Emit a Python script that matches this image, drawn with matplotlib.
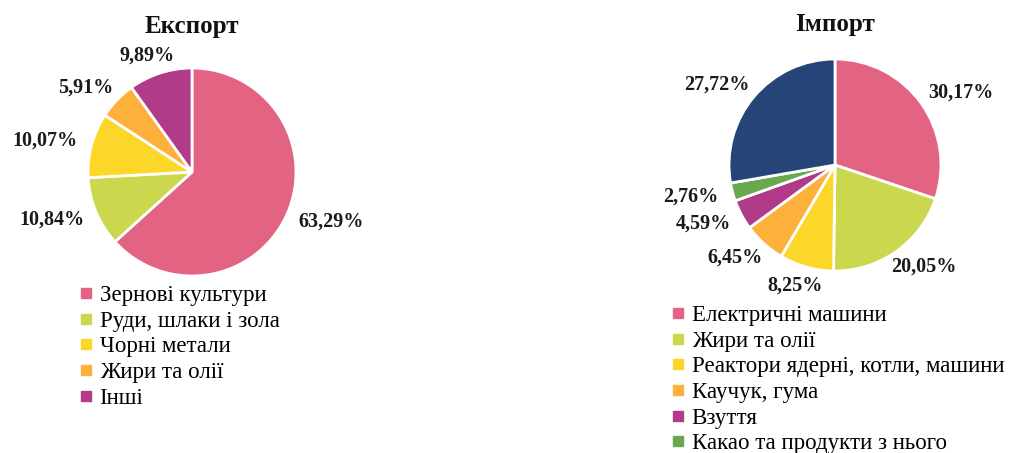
import matplotlib
matplotlib.use("Agg")
from matplotlib import pyplot as plt
from matplotlib.lines import Line2D
import numpy as np

plt.rcParams['font.family'] = ['Liberation Serif', 'DejaVu Serif']

export_names = ["Зернові культури", "Руди, шлаки і зола", "Чорні метали", "Жири та олії", "Інші"]
export_vals = [63.29, 10.84, 10.07, 5.91, 9.89]
export_colors = ["#E36482", "#CBD84E", "#FDD62A", "#FDB03A", "#B13A89"]

import_names = ["Електричні машини", "Жири та олії", "Реактори ядерні, котли, машини",
                "Каучук, гума", "Взуття", "Какао та продукти з нього", "Інші"]
import_vals = [30.17, 20.05, 8.25, 6.45, 4.59, 2.76, 27.72]
import_colors = ["#E36482", "#CBD84E", "#FDD62A", "#FDB03A", "#B13A89", "#6AA84F", "#264478"]
import_legend_count = 6

W, H = 1013, 453
fig = plt.figure(figsize=(W / 100, H / 100), dpi=100)


def fmt(v):
    return ("%.2f%%" % v).replace(".", ",")


def draw_pie(cx, cy, r, vals, colors, title, ty):
    ax = fig.add_axes([(cx - r) / W, 1 - (cy + r) / H, 2 * r / W, 2 * r / H])
    wedges, _ = ax.pie(vals, colors=colors, startangle=90, counterclock=False,
                       wedgeprops=dict(edgecolor="white", linewidth=2))
    ax.set_xlim(-1, 1)
    ax.set_ylim(-1, 1)
    renderer = fig.canvas.get_renderer()
    # labels placed just outside the slice, pushed sideways by their own width
    for w, v in zip(wedges, vals):
        ang = np.deg2rad((w.theta1 + w.theta2) / 2)
        c, s = np.cos(ang), np.sin(ang)
        t = ax.text(0, 0, fmt(v), ha="center", va="center", fontsize=14.5,
                    fontweight="bold", color="#1a1a1a", clip_on=False)
        bb = t.get_window_extent(renderer)
        hw = bb.width / 2 / r
        hh = bb.height / 2 / r
        t.set_position((1.15 * c + hw * c, 1.15 * s + 0.3 * hh * s))
    fig.text(cx / W, 1 - ty / H, title, ha="center", va="center",
             fontsize=18, fontweight="bold", color="#111111")
    return ax


def draw_legend(names, colors, x, y):
    handles = [Line2D([], [], marker="s", linestyle="", markersize=7, color=c) for c in colors]
    fig.legend(handles, names, loc="upper left", bbox_to_anchor=(x / W, 1 - y / H),
               frameon=False, fontsize=16.5, handlelength=0.6, handletextpad=0.3,
               labelspacing=0.2, borderaxespad=0, borderpad=0)


draw_pie(192, 172, 104, export_vals, export_colors, "Експорт", 26)
draw_pie(835, 165, 106, import_vals, import_colors, "Імпорт", 24)
draw_legend(export_names, export_colors, 79, 285)
draw_legend(import_names[:import_legend_count], import_colors[:import_legend_count], 671, 305)

plt.savefig("out.png", dpi=100)
